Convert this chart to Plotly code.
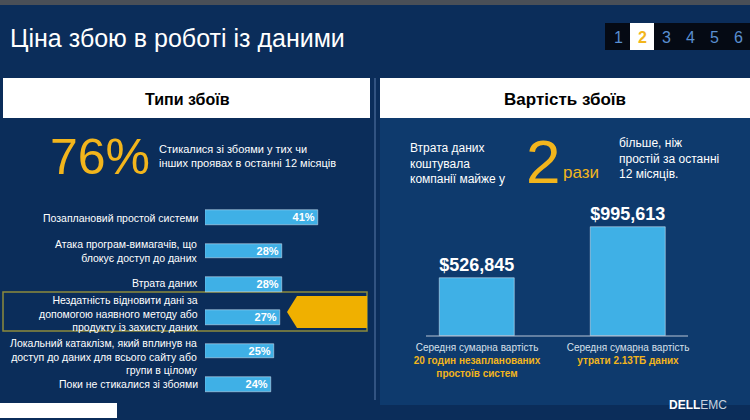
import plotly.graph_objects as go

W, H = 750, 420
def py(p): return 1 - p / H
def px(p): return p / W

fail_types = ["Позаплановий простой системи",
              "Атака програм-вимагачів, що<br>блокує доступ до даних",
              "Втрата даних",
              "Нездатність відновити дані за<br>допомогою наявного методу або<br>продукту із захисту даних",
              "Локальний катаклізм, який вплинув на<br>доступ до даних для всього сайту або<br>групи в цілому",
              "Поки не стикалися зі збоями"]
fail_pct = [41, 28, 28, 27, 25, 24]

cost_cats = ["Середня сумарна вартість<br><b><span style='color:#f2b51c'>20 годин незапланованих<br>простоїв систем</span></b>",
             "Середня сумарна вартість<br><b><span style='color:#f2b51c'>утрати 2.13ТБ даних</span></b>"]
cost_vals = [526845, 995613]
cost_labels = ["$526,845", "$995,613"]

BLUE = "#3fb0e6"
YEL = "#f2b51c"
BG = "#0b2d5a"
F = "Liberation Sans"

fig = go.Figure()
fig.add_trace(go.Bar(y=fail_types, x=fail_pct, orientation="h", marker_color=BLUE,
                     width=0.44, text=[f"{v}%" for v in fail_pct], textposition="inside",
                     insidetextanchor="end", textfont=dict(color="white", size=11, family=F),
                     texttemplate="<b>%{text}</b>", xaxis="x", yaxis="y", hoverinfo="skip"))
fig.add_trace(go.Bar(x=cost_cats, y=cost_vals, marker_color=BLUE, width=0.5,
                     text=cost_labels, textposition="outside", texttemplate="<b>%{text}</b>",
                     textfont=dict(color="white", size=20, family=F),
                     cliponaxis=False, xaxis="x2", yaxis="y2", hoverinfo="skip"))

shapes = [
    dict(type="rect", xref="paper", yref="paper", x0=0, x1=1, y0=py(5), y1=1, fillcolor="#4a4f57", line_width=0, layer="below"),
    dict(type="rect", xref="paper", yref="paper", x0=px(380), x1=1, y0=py(405), y1=py(118), fillcolor="#0e3a6d", line_width=0, layer="below"),
    dict(type="rect", xref="paper", yref="paper", x0=px(3), x1=px(370), y0=py(118), y1=py(78), fillcolor="white", line_width=0),
    dict(type="rect", xref="paper", yref="paper", x0=px(380), x1=1, y0=py(118), y1=py(78), fillcolor="white", line_width=0),
    dict(type="line", xref="paper", yref="paper", x0=px(375), x1=px(375), y0=py(400), y1=py(78), line=dict(color="#5a7aa8", width=1)),
    dict(type="rect", xref="paper", yref="paper", x0=px(3), x1=px(367), y0=py(331), y1=py(292), line=dict(color="#8d8a3c", width=1.5), layer="below"),
    dict(type="path", xref="paper", yref="paper", path=f"M {px(367)},{py(296)} L {px(297)},{py(296)} L {px(287)},{py(312)} L {px(297)},{py(328)} L {px(367)},{py(328)} Z",
         fillcolor="#f0b000", line_width=0),
    dict(type="line", xref="paper", yref="paper", x0=px(426), x1=px(688), y0=py(336), y1=py(336), line=dict(color="#b8c4d6", width=1)),
    dict(type="rect", xref="paper", yref="paper", x0=px(605), x1=1, y0=py(50), y1=py(23), fillcolor="#050a14", line_width=0),
    dict(type="rect", xref="paper", yref="paper", x0=px(630), x1=px(654), y0=py(50), y1=py(23), fillcolor="white", line_width=0),
    dict(type="rect", xref="paper", yref="paper", x0=0, x1=px(117), y0=py(418), y1=py(403), fillcolor="white", line_width=0),
]

ann = []
def A(x, y, t, size, color="white", xa="left", ya="middle", align="left"):
    ann.append(dict(xref="paper", yref="paper", x=px(x), y=py(y), text=t, showarrow=False,
                    xanchor=xa, yanchor=ya, font=dict(size=size, color=color, family=F), align=align))

A(8, 38, "Ціна збою в роботі із даними", 25)
for i, d in enumerate(["1", "2", "3", "4", "5", "6"]):
    A(618 + i * 24, 37, f"<b>{d}</b>" if d == "2" else d, 16, YEL if d == "2" else "#5a8fd0", xa="center")
A(187, 99, "<b>Типи збоїв</b>", 16, "black", xa="center")
A(565, 99, "<b>Вартість збоїв</b>", 17, "black", xa="center")
A(100, 157, "76%", 50, YEL, xa="center")
A(157, 156, "Стикалися зі збоями у тих чи<br>інших проявах в останні 12 місяців", 11)
A(408, 164, "Втрата даних<br>коштувала<br>компанії майже у", 12)
A(543, 162, "2", 62, YEL, xa="center")
A(561, 172, "рази", 17, YEL)
A(617, 158, "більше, ніж<br>простій за останні<br>12 місяців.", 12)
A(698, 405, "<b>DELL</b><span style='color:#c9d2de'>EMC</span>", 12, xa="center")

shifts = [0, 0, 1, 4, -5, 0]
for cat, s in zip(fail_types, shifts):
    ann.append(dict(xref="paper", yref="y", x=px(200), y=cat, text=cat, showarrow=False,
                    xanchor="right", yanchor="middle", align="right", yshift=s,
                    font=dict(size=10.5, color="white", family=F)))

fig.update_layout(
    width=W, height=H, margin=dict(l=0, r=0, t=0, b=0),
    paper_bgcolor=BG, plot_bgcolor="rgba(0,0,0,0)", showlegend=False,
    shapes=shapes, annotations=ann, bargap=0,
    uniformtext=dict(minsize=11, mode="show"),
    xaxis=dict(domain=[px(205), px(370)], range=[0, 59.8], visible=False, fixedrange=True),
    yaxis=dict(domain=[py(401), py(201)], autorange="reversed", anchor="x",
               showticklabels=False, showgrid=False, showline=False, ticks=""),
    xaxis2=dict(domain=[px(401.5), px(703.5)], anchor="y2", showgrid=False, showline=False, ticks="",
                tickfont=dict(color="#d8e0ea", size=10, family=F), ticklabelstandoff=4),
    yaxis2=dict(domain=[py(336), py(170)], range=[0, 1516000], visible=False, anchor="x2"),
)
fig.write_html("out.html", config={"displayModeBar": False})
with open("out.html", encoding="utf-8") as f:
    html = f.read()
html = html.replace("<head>", "<head><style>html,body{margin:0;padding:0;overflow:hidden;background:#0b2d5a}</style>", 1)
with open("out.html", "w", encoding="utf-8") as f:
    f.write(html)
